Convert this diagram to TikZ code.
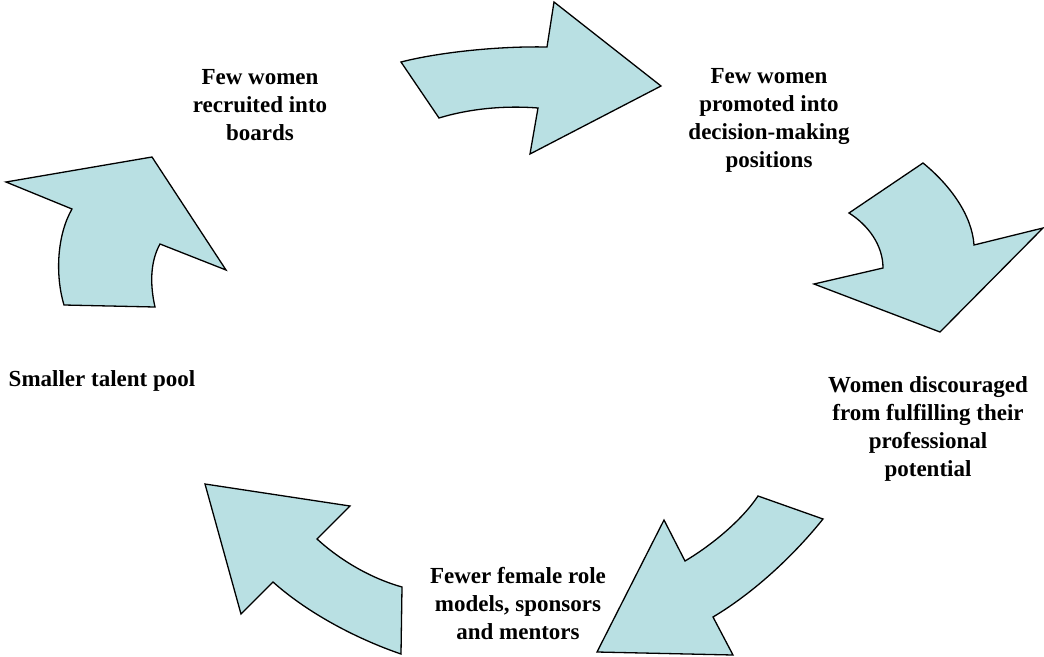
\documentclass[tikz,border=0pt]{standalone}
\usepackage{fontspec}
\setmainfont{Liberation Serif}
\definecolor{arrowfill}{RGB}{185,224,227}
\begin{document}
\begin{tikzpicture}[x=1pt,y=-1pt,
  cyclearrow/.style={draw=black,fill=arrowfill,line width=1.3pt,line join=miter},
  label/.style={font=\bfseries\fontsize{23}{28}\selectfont,align=center,inner sep=0pt,anchor=north}]
\useasboundingbox (0,0) rectangle (1044,656);
% arrow 1 (top)
\path[cyclearrow] (401,62) .. controls (440,52) and (500,46) .. (547,47)
  -- (554,2) -- (661,86) -- (530,154) -- (538,108)
  .. controls (500,105) and (465,110) .. (439,118) -- cycle;
% arrow 2 (right)
\path[cyclearrow] (849,213) -- (923,163) .. controls (950,185) and (972,215) .. (974,245)
  -- (1043,228) -- (940,332) -- (814,284) -- (883,268)
  .. controls (883,245) and (868,225) .. cycle;
% arrow 3 (bottom right)
\path[cyclearrow] (758,496) -- (823,519) .. controls (790,560) and (750,595) .. (713,617)
  -- (733,655) -- (597,652) -- (664,520) -- (685,561)
  .. controls (712,545) and (742,520) .. cycle;
% arrow 4 (bottom left)
\path[cyclearrow] (205,484) -- (350,506) -- (317,539)
  .. controls (340,560) and (370,578) .. (402,587) -- (401,654)
  .. controls (360,640) and (310,615) .. (273,582) -- (241,614) -- cycle;
% arrow 5 (left)
\path[cyclearrow] (152,157) -- (226,270) -- (160,244)
  .. controls (150,262) and (150,285) .. (155,307) -- (64,305)
  .. controls (55,275) and (57,235) .. (72,209) -- (6,182) -- cycle;
% labels
\node[label] (t1) at (260,69) {Few women\\recruited into\\boards};
\node[label] (t2) at (769,68) {Few women\\promoted into\\decision-making\\positions};
\node[label] (t3) at (928,376) {Women discouraged\\from fulfilling their\\professional\\potential};
\node[label] (t4) at (518,567) {Fewer female role\\models, sponsors\\and mentors};
\node[label] (t5) at (102,370) {Smaller talent pool};
\end{tikzpicture}
\end{document}
